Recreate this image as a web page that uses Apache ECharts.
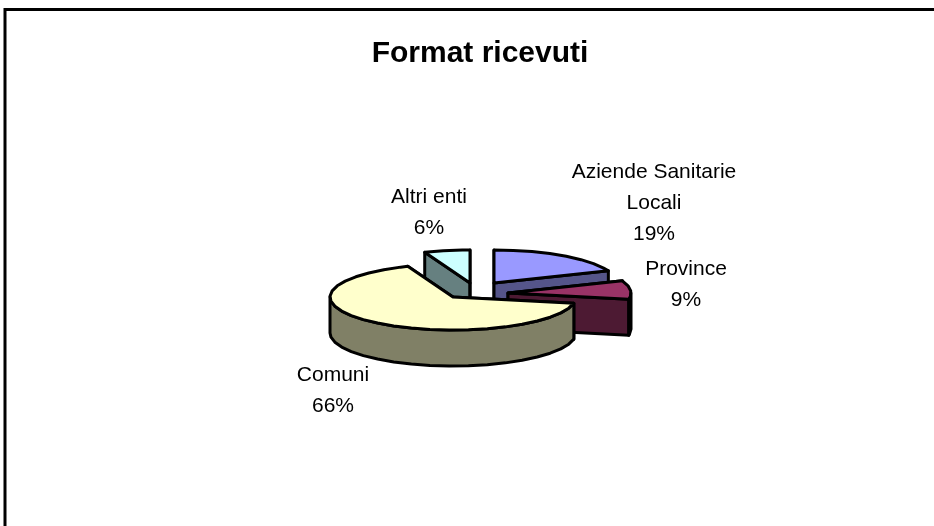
<!DOCTYPE html>
<html>
<head>
<meta charset="utf-8">
<style>
  html, body { margin: 0; padding: 0; background: #fff; }
  #mainChart { width: 934px; height: 526px; }
</style>
<script src="https://cdn.jsdelivr.net/npm/echarts@6/dist/echarts.min.js"></script>
</head>
<body>
<div id="mainChart"></div>
<script>
// data, clockwise from 12 o'clock
const sliceNames = ['Aziende Sanitarie\nLocali', 'Province', 'Comuni', 'Altri enti'];
const sliceValues = [19, 9, 66, 6];

// look of the excel 3d pie
const topColors = ['#9999ff', '#993366', '#ffffcc', '#ccffff'];
const sideColors = ['#55558a', '#4d1a33', '#808066', '#668080'];
const sliceCenters = [[494, 283], [508, 293], [453, 297], [470, 283]];
const labelPositions = [[654, 203], [686, 285], [333, 391], [429, 213]];
const drawOrder = [1, 3, 4, 2];
const radiusX = 123;
const radiusY = 33;
const depth = 36;
const angleStep = 9;

const total = sliceValues.reduce((a, b) => a + b, 0);

function rimPoint(center, deg) {
    const r = deg * Math.PI / 180;
    return [center[0] + radiusX * Math.sin(r), center[1] - radiusY * Math.cos(r)];
}
function rimPoints(center, from, to) {
    const pts = [];
    for (let d = from; d < to; d += angleStep) pts.push(rimPoint(center, d));
    pts.push(rimPoint(center, to));
    return pts;
}
function down(p) {
    return [p[0], p[1] + depth];
}
function poly(points, fill, z2) {
    return {
        type: 'polygon',
        z2: z2,
        shape: { points: points },
        style: { fill: fill, stroke: '#000', lineWidth: 3, lineJoin: 'round' }
    };
}

function renderSlice(params, api) {
    const i = params.dataIndex;
    let before = 0;
    for (let k = 0; k < i; k++) before += sliceValues[k];
    const start = before / total * 360;
    const end = start + api.value(0) / total * 360;
    const c = sliceCenters[i];
    const base = drawOrder[i] * 10;
    const children = [];

    // cut faces
    [start, end].forEach((a, n) => {
        const p = rimPoint(c, a);
        children.push(poly([c, p, down(p), down(c)], sideColors[i], base + n));
    });
    // outer wall, only the part that faces the viewer
    const wallFrom = Math.max(start, 90);
    const wallTo = Math.min(end, 270);
    if (wallTo > wallFrom) {
        const rim = rimPoints(c, wallFrom, wallTo);
        children.push(poly(rim.concat(rim.slice().reverse().map(down)), sideColors[i], base + 2));
    }
    // top face
    children.push(poly([c].concat(rimPoints(c, start, end)), topColors[i], base + 3));
    // label
    children.push({
        type: 'text',
        z2: 100,
        style: {
            x: labelPositions[i][0],
            y: labelPositions[i][1],
            text: sliceNames[i] + '\n' + api.value(0) + '%',
            fill: '#000',
            font: '21px "Liberation Sans"',
            lineHeight: 31,
            align: 'center',
            verticalAlign: 'middle'
        }
    });
    return { type: 'group', children: children };
}

const myChart = echarts.init(document.getElementById('mainChart'), null, { renderer: 'canvas' });
myChart.setOption({
    animation: false,
    backgroundColor: '#fff',
    title: {
        text: 'Format ricevuti',
        left: 475,
        top: 34,
        textAlign: 'center',
        textStyle: { fontFamily: 'Liberation Sans', fontSize: 30, fontWeight: 'bold', color: '#000' }
    },
    // chart frame, cut off by the picture on the right and at the bottom
    graphic: [{
        type: 'polyline',
        shape: { points: [[5, 526], [5, 9.5], [934, 9.5]] },
        style: { fill: null, stroke: '#000', lineWidth: 3 }
    }],
    series: [{
        type: 'custom',
        coordinateSystem: 'none',
        data: sliceValues,
        renderItem: renderSlice
    }]
});
</script>
</body>
</html>
